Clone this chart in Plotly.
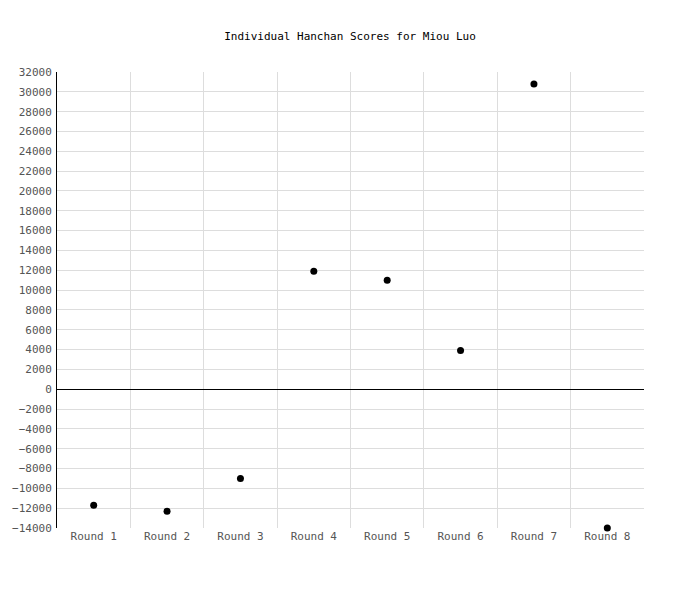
import plotly.graph_objects as go

# 資料
rounds = ['Round 1', 'Round 2', 'Round 3', 'Round 4', 'Round 5', 'Round 6', 'Round 7', 'Round 8']
scores = [-11700, -12300, -9000, 11900, 11000, 3900, 30800, -14000]
player = 'Miou Luo'

FONT = 'DejaVu Sans Mono'

fig = go.Figure()

fig.add_trace(go.Scatter(x = rounds,
                         y = scores,
                         mode = 'markers',
                         marker = dict(color = 'black', size = 7),
                         cliponaxis = False,
                         showlegend = False))

fig.update_xaxes(type = 'category',
                 range = [-0.5, len(rounds) - 0.5],
                 tickson = 'boundaries',
                 showgrid = True,
                 gridcolor = '#dddddd',
                 gridwidth = 1,
                 ticks = 'outside',
                 ticklen = 2,
                 tickcolor = 'white',
                 showline = False,
                 zeroline = False,
                 automargin = False,
                 tickfont = dict(family = FONT, size = 11, color = '#555555'))

fig.update_yaxes(range = [-14000, 32000],
                 dtick = 2000,
                 tickformat = 'd',
                 showgrid = True,
                 gridcolor = '#dddddd',
                 gridwidth = 1,
                 zeroline = True,
                 zerolinecolor = 'black',
                 zerolinewidth = 1,
                 showline = True,
                 linecolor = 'black',
                 linewidth = 1,
                 ticks = 'outside',
                 ticklen = 2,
                 tickcolor = 'white',
                 automargin = False,
                 tickfont = dict(family = FONT, size = 11, color = '#555555'))

# 頁面本身有 8px 邊距，所以邊界往左上移
fig.update_layout(title = dict(text = f'Individual Hanchan Scores for {player}',
                               xref = 'container',
                               yref = 'container',
                               x = 342 / 700,
                               xanchor = 'center',
                               y = 1 - 28 / 600,
                               yanchor = 'middle',
                               font = dict(family = FONT, size = 11, color = 'black')),
                  separators = '.',
                  width = 700,
                  height = 600,
                  margin = dict(l = 49, r = 64, t = 64, b = 80),
                  paper_bgcolor = 'white',
                  plot_bgcolor = 'white')

fig.write_html("out.html")
